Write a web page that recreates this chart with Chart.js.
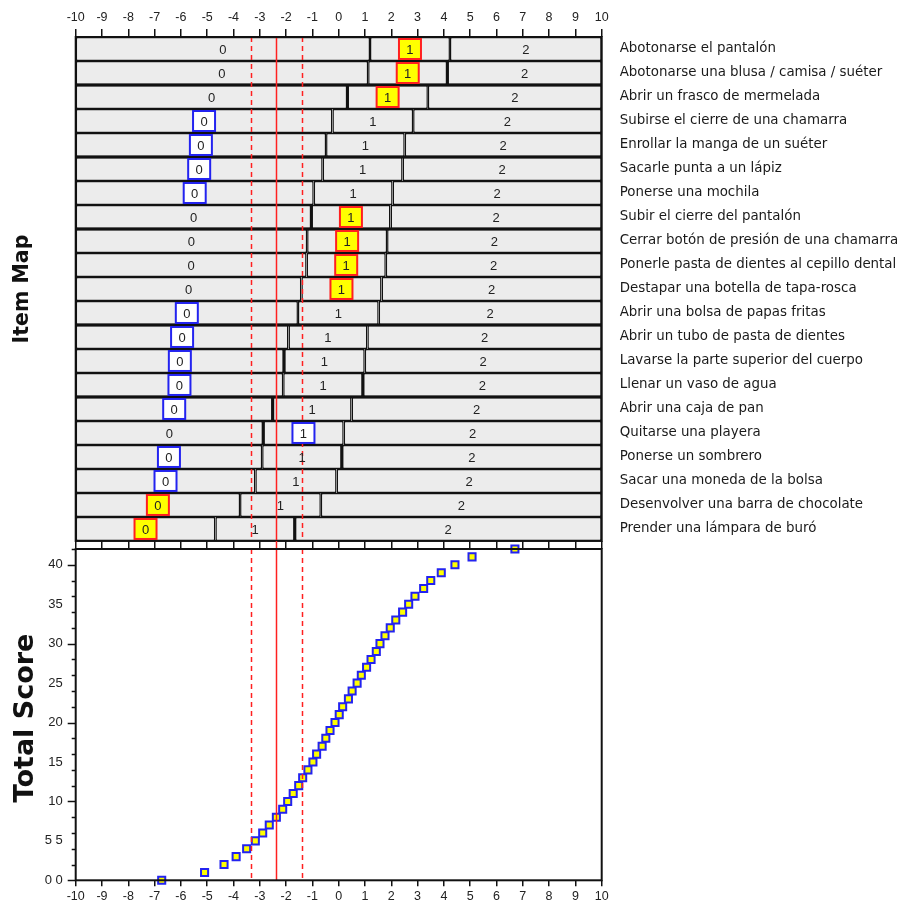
<!DOCTYPE html>
<html>
<head>
<meta charset="utf-8">
<script src="https://cdn.jsdelivr.net/npm/chart.js@4/dist/chart.umd.min.js"></script>
<style>
  body { margin: 0; background: #fff; width: 902px; height: 910px; position: relative; overflow: hidden; }
  #caixaMapa  { position: absolute; left: 0; top: 0;     width: 902px; height: 549px; }
  #caixaScore { position: absolute; left: 0; top: 541px; width: 902px; height: 369px; }
  .lateral {
    position: absolute; font-family: 'DejaVu Sans', sans-serif; font-weight: bold;
    color: #111; white-space: nowrap; transform: translate(-50%, -50%) rotate(-90deg);
  }
</style>
</head>
<body>
<div id="caixaMapa"><canvas id="mapa" width="902" height="549"></canvas></div>
<div id="caixaScore"><canvas id="score" width="902" height="369"></canvas></div>
<div class="lateral" style="left:21px; top:289px; font-size:20.5px;">Item Map</div>
<div class="lateral" style="left:23px; top:718px; font-size:27px;">Total Score</div>

<script>
// Mapa de ítems (umbrales por ítem) + puntaje total vs. medida

const itens = [
    'Abotonarse el pantalón',
    'Abotonarse una blusa / camisa / suéter',
    'Abrir un frasco de mermelada',
    'Subirse el cierre de una chamarra',
    'Enrollar la manga de un suéter',
    'Sacarle punta a un lápiz',
    'Ponerse una mochila',
    'Subir el cierre del pantalón',
    'Cerrar botón de presión de una chamarra',
    'Ponerle pasta de dientes al cepillo dental',
    'Destapar una botella de tapa-rosca',
    'Abrir una bolsa de papas fritas',
    'Abrir un tubo de pasta de dientes',
    'Lavarse la parte superior del cuerpo',
    'Llenar un vaso de agua',
    'Abrir una caja de pan',
    'Quitarse una playera',
    'Ponerse un sombrero',
    'Sacar una moneda de la bolsa',
    'Desenvolver una barra de chocolate',
    'Prender una lámpara de buró',
];

// umbral 0|1 y umbral 1|2 de cada ítem (logits)
const umbral1 = [1.19, 1.12, 0.33, -0.24, -0.48, -0.61, -0.95, -1.04, -1.20, -1.22, -1.42,
                 -1.55, -1.91, -2.08, -2.11, -2.51, -2.87, -2.91, -3.17, -3.75, -4.69];
const umbral2 = [4.23, 4.13, 3.39, 2.83, 2.51, 2.43, 2.05, 1.97, 1.84, 1.79, 1.63,
                 1.52, 1.09, 0.99, 0.92, 0.49, 0.19, 0.12, -0.08, -0.68, -1.67];
const categorias = ['0', '1', '2'];

// respuesta observada de la persona y si fue inesperada
const respuesta  = [1, 1, 1, 0, 0, 0, 0, 1, 1, 1, 1, 0, 0, 0, 0, 0, 1, 0, 0, 0, 0];
const inesperada = [1, 1, 1, 0, 0, 0, 0, 1, 1, 1, 1, 0, 0, 0, 0, 0, 0, 0, 0, 1, 1];

// medida de la persona: [límite inferior, medida, límite superior]
const persona = [-3.33, -2.40, -1.40];

// puntaje total -> medida
const puntajes = [0, 1, 2, 3, 4, 5, 6, 7, 8, 9, 10, 11, 12, 13, 14, 15, 16, 17, 18, 19, 20,
                  21, 22, 23, 24, 25, 26, 27, 28, 29, 30, 31, 32, 33, 34, 35, 36, 37, 38, 39, 40, 41, 42];
const medidas  = [-6.73, -5.10, -4.36, -3.90, -3.50, -3.17, -2.89, -2.64, -2.37, -2.13, -1.94,
                  -1.73, -1.52, -1.37, -1.17, -0.98, -0.84, -0.63, -0.49, -0.33, -0.14,
                  0.02, 0.15, 0.37, 0.51, 0.70, 0.86, 1.06, 1.23, 1.43, 1.57,
                  1.76, 1.96, 2.17, 2.43, 2.66, 2.90, 3.23, 3.50, 3.90, 4.42, 5.07, 6.70];
const rotulosPuntaje = ['0 0', '5 5', '10', '15', '20', '25', '30', '35', '40'];

// ── estilo ──────────────────────────────────────────────────────────
const FONTE       = "'Liberation Sans', Arial, sans-serif";
const FONTE_ITEM  = "'DejaVu Sans', sans-serif";
const CINZA       = '#ececec';
const PRETO       = '#111';
const VERMELHO    = '#ff2020';
const AZUL        = '#2323f0';
const AMARELO     = '#ffff00';
const ESQ = 75.7, DIR = 601.7;
const QUEBRAS_GRUPO = [2, 5, 8, 12, 15];            // línea gruesa debajo de esa fila
const BORDAS_GROSSAS = [[1, 2], [2, 1], [7, 1], [13, 1], [14, 2], [15, 1], [16, 1], [17, 2], [20, 2]];

function linhasPersona(chart, yIni, yIniSolida) {
    const { ctx, chartArea, scales } = chart;
    ctx.save();
    ctx.strokeStyle = VERMELHO;
    ctx.lineWidth = 1.5;
    persona.forEach((v, i) => {
        const x = Math.round(scales.x.getPixelForValue(v)) + 0.5;
        ctx.setLineDash(i === 1 ? [] : [5, 4]);
        ctx.beginPath();
        ctx.moveTo(x, i === 1 ? yIniSolida : yIni);
        ctx.lineTo(x, chartArea.bottom);
        ctx.stroke();
    });
    ctx.restore();
}

// ── mapa de ítems ───────────────────────────────────────────────────
const segmentos = [
    umbral1.map(u => [-10, u]),
    umbral1.map((u, i) => [u, umbral2[i]]),
    umbral2.map(u => [u, 10]),
];

const pluginMapa = {
    id: 'mapa',
    afterDatasetsDraw(chart) {
        const { ctx, chartArea, scales } = chart;
        const x = scales.x, y = scales.y;
        const alto = (chartArea.bottom - chartArea.top) / itens.length;

        ctx.save();
        ctx.fillStyle = PRETO;
        QUEBRAS_GRUPO.forEach(n => {
            const yy = chartArea.top + n * alto;
            ctx.fillRect(chartArea.left, yy - 1.5, chartArea.right - chartArea.left, 3);
        });
        BORDAS_GROSSAS.forEach(([fila, cual]) => {
            const v = cual === 1 ? umbral1[fila] : umbral2[fila];
            const xx = x.getPixelForValue(v);
            const yc = y.getPixelForValue(fila);
            ctx.fillRect(xx - 1.5, yc - alto / 2, 3, alto);
        });
        ctx.restore();

        linhasPersona(chart, chartArea.top, chartArea.top);

        ctx.save();
        ctx.font = '13px ' + FONTE;
        ctx.textAlign = 'center';
        ctx.textBaseline = 'middle';
        itens.forEach((_, fila) => {
            const yc = y.getPixelForValue(fila);
            segmentos.forEach((seg, k) => {
                const xc = x.getPixelForValue((seg[fila][0] + seg[fila][1]) / 2);
                if (respuesta[fila] === k) {
                    ctx.fillStyle   = inesperada[fila] ? AMARELO : '#fff';
                    ctx.strokeStyle = inesperada[fila] ? VERMELHO : AZUL;
                    ctx.lineWidth = 2;
                    ctx.fillRect(xc - 11, yc - 10, 22, 20);
                    ctx.strokeRect(xc - 11, yc - 10, 22, 20);
                }
                ctx.fillStyle = '#222';
                ctx.fillText(categorias[k], xc, yc + 1);
            });
        });

        ctx.strokeStyle = PRETO;
        ctx.lineWidth = 2;
        ctx.strokeRect(chartArea.left, chartArea.top, chartArea.right - chartArea.left, chartArea.bottom - chartArea.top);
        ctx.restore();
    }
};

new Chart(document.getElementById('mapa').getContext('2d'), {
    type: 'bar',
    data: {
        labels: itens,
        datasets: segmentos.map(d => ({
            data: d,
            backgroundColor: CINZA,
            borderColor: PRETO,
            borderWidth: 1.5,
            borderSkipped: false,
            inflateAmount: 0,
            grouped: false,
            barPercentage: 1,
            categoryPercentage: 1,
        }))
    },
    options: {
        indexAxis: 'y',
        responsive: false,
        animation: false,
        layout: { padding: { left: ESQ, right: 0, top: 0, bottom: 8 } },
        plugins: { legend: { display: false }, tooltip: { enabled: false } },
        scales: {
            x: {
                type: 'linear', position: 'top', min: -10, max: 10,
                ticks: { stepSize: 1, padding: 4, color: '#222', font: { size: 12.5, family: FONTE } },
                grid: { drawOnChartArea: false, tickLength: 8, color: PRETO, lineWidth: 1.5 },
                border: { display: false },
                afterFit: s => { s.height = 37; }
            },
            y: {
                type: 'category', position: 'right',
                ticks: { padding: 0, color: '#1a1a1a', font: { size: 13.4, family: FONTE_ITEM } },
                grid: { drawOnChartArea: false, drawTicks: true, tickLength: 18, color: 'rgba(0,0,0,0)' },
                border: { display: false },
                afterFit: s => { s.width = 902 - DIR; }
            }
        }
    },
    plugins: [pluginMapa]
});

// ── puntaje total ───────────────────────────────────────────────────
const pluginScore = {
    id: 'score',
    afterDatasetsDraw(chart) {
        const { ctx, chartArea, scales } = chart;
        linhasPersona(chart, chartArea.top, 0);

        ctx.save();
        ctx.strokeStyle = PRETO;
        ctx.lineWidth = 1.5;
        // marcas del eje Y: cada 2, largas cada 10
        for (let v = 0; v <= 42; v += 2) {
            const yy = Math.round(scales.y.getPixelForValue(v)) + 0.5;
            const largo = v % 10 === 0 ? 8 : 4;
            ctx.beginPath();
            ctx.moveTo(chartArea.left - largo, yy);
            ctx.lineTo(chartArea.left, yy);
            ctx.stroke();
        }
        ctx.lineWidth = 2;
        ctx.strokeRect(chartArea.left, chartArea.top, chartArea.right - chartArea.left, chartArea.bottom - chartArea.top);
        ctx.restore();
    }
};

new Chart(document.getElementById('score').getContext('2d'), {
    type: 'scatter',
    data: {
        datasets: [{
            data: medidas.map((m, i) => ({ x: m, y: puntajes[i] })),
            pointStyle: 'rect',
            pointRadius: 5,
            pointBorderWidth: 2,
            borderColor: AZUL,
            backgroundColor: AMARELO,
            clip: false,
        }]
    },
    options: {
        responsive: false,
        animation: false,
        layout: { padding: { left: 0, right: 902 - DIR, top: 0, bottom: 0 } },
        plugins: { legend: { display: false }, tooltip: { enabled: false } },
        scales: {
            x: {
                type: 'linear', position: 'bottom', min: -10, max: 10,
                ticks: { stepSize: 1, padding: 3, color: '#222', font: { size: 12.5, family: FONTE } },
                grid: { drawOnChartArea: false, tickLength: 6, color: PRETO, lineWidth: 1.5 },
                border: { display: false },
                afterFit: s => { s.height = 29.7; }
            },
            regua: {
                type: 'linear', position: 'top', min: -10, max: 10,
                ticks: { stepSize: 1, display: false },
                grid: { drawOnChartArea: false, tickLength: 8, color: PRETO, lineWidth: 1.5 },
                border: { display: false },
                afterFit: s => { s.height = 8; }
            },
            y: {
                min: 0, max: 42,
                ticks: {
                    stepSize: 1, autoSkip: false, padding: 0, color: '#222',
                    font: { size: 13, family: FONTE },
                    callback: v => (v % 5 === 0 && v <= 40) ? rotulosPuntaje[v / 5] : ''
                },
                grid: { drawOnChartArea: false, tickLength: 13, color: 'rgba(0,0,0,0)' },
                border: { display: false },
                afterFit: s => { s.width = ESQ; }
            }
        }
    },
    plugins: [pluginScore]
});
</script>
</body>
</html>
